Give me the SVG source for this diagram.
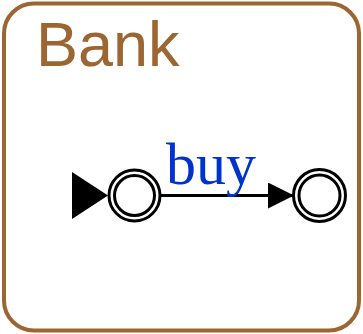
<svg xmlns="http://www.w3.org/2000/svg" width="363" height="334" viewBox="0 0 363 334">
<style>
.st{fill:#fff;stroke:#000;stroke-width:3}
.ln{fill:none;stroke:#000;stroke-width:3}
</style>
<defs>
<marker id="ah" markerUnits="userSpaceOnUse" markerWidth="26" markerHeight="26" refX="25" refY="13" orient="auto" viewBox="0 0 26 26">
<path d="M0,0 L26,13 L0,26 Z" fill="#000"/>
</marker>
</defs>
<g id="bank">
<rect x="4" y="3.5" width="355" height="327" rx="30" ry="30" fill="#fff" stroke="#9c6632" stroke-width="4"/>
<text x="36" y="66" font-family="Liberation Sans, Arial, sans-serif" font-size="63" fill="#9c6632">Bank</text>
</g>
<g id="connectors">
<path d="M72,172 L108,195.5 L72,219 Z" fill="#000"/>
<line class="ln" x1="161" y1="195.5" x2="293" y2="195.5" marker-end="url(#ah)"/>
<text x="166" y="184" font-family="Liberation Serif, Times New Roman, serif" font-size="60" fill="#0033cc">buy</text>
</g>
<g id="s0">
<circle class="st" cx="134.5" cy="195.5" r="25.5"/>
<circle class="st" cx="134.5" cy="195.5" r="20"/>
</g>
<g id="s1">
<circle class="st" cx="319.5" cy="195.5" r="26"/>
<circle class="st" cx="319.5" cy="195.5" r="20.5"/>
</g>
</svg>
